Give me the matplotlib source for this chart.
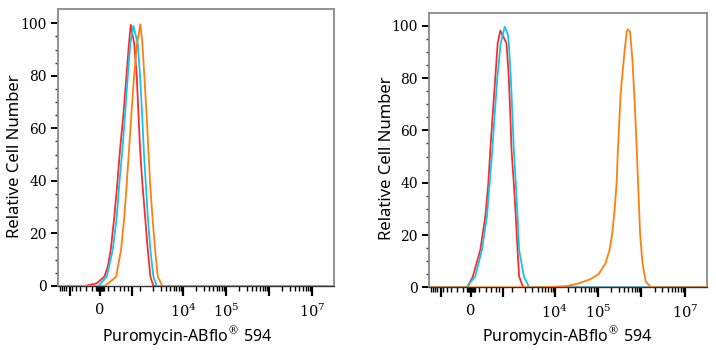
import matplotlib
matplotlib.use('Agg')
import matplotlib.pyplot as plt

plt.rcParams['mathtext.fontset'] = 'dejavuserif'

# значения по оси X (интенсивность) и Y (относительное число клеток)
# левая панель
left_red_x = [-1100, -210, -42, 55, 100, 142, 198, 250, 302, 380, 452, 529, 584, 710, 822, 900, 988, 1119, 1297, 1502, 1730, 2033, 3.2e7]
left_red_y = [0, 0, 1.0, 3.5, 7.3, 13.7, 26.4, 39.1, 51.8, 66.0, 79.7, 92.4, 99.4, 92.4, 79.7, 66.0, 51.8, 39.1, 26.4, 13.7, 3.5, 0, 0]

left_cyan_x = [-1100, -21, 86, 172, 240, 288, 353, 420, 491, 572, 678, 869, 988, 1100, 1208, 1347, 1502, 1730, 2033, 2442, 3.2e7]
left_cyan_y = [0, 0, 3.5, 13.7, 26.4, 39.1, 51.8, 66.0, 79.7, 92.4, 99.0, 92.4, 79.7, 66.0, 51.8, 39.1, 26.4, 13.7, 3.5, 0, 0]

left_orange_x = [-1100, 64, 227, 323, 400, 463, 529, 610, 705, 836, 1003, 1119, 1248, 1400, 1551, 1701, 1927, 2228, 2578, 3297, 3.2e7]
left_orange_y = [0, 0, 3.5, 13.7, 26.4, 39.1, 51.8, 66.0, 79.7, 92.4, 99.6, 92.4, 79.7, 66.0, 51.8, 39.1, 26.4, 13.7, 3.5, 0, 0]

# правая панель
right_red_x = [-1100, -47, 20, 118, 193, 245, 282, 335, 392, 452, 529, 748, 850, 920, 988, 1119, 1248, 1370, 1493, 1854, 3.2e7]
right_red_y = [0, 0, 4.1, 14.3, 27.0, 39.8, 52.5, 67.0, 80.5, 93.3, 98.1, 93.3, 80.5, 67.0, 52.5, 39.8, 27.0, 14.3, 4.1, 0, 0]

right_cyan_x = [-1100, -64, 51, 141, 220, 269, 323, 380, 444, 539, 678, 818, 850, 950, 1030, 1119, 1248, 1370, 1493, 1930, 2562, 3.2e7]
right_cyan_y = [0, 0, 4.1, 14.3, 27.0, 39.8, 52.5, 67.0, 80.5, 93.3, 99.6, 96.4, 93.3, 80.5, 67.0, 52.5, 39.8, 27.0, 14.3, 4.1, 0, 0]

right_orange_x = [-1100, 5000, 7780, 19035, 32500, 66270, 103300, 147900, 183300, 211800, 239600, 266500, 285800,
                  330200, 367900, 409500, 455900, 488400, 544000, 618400, 699200, 778200, 834600, 929000,
                  1056700, 1259600, 1646000, 2000000, 3.2e7]
right_orange_y = [0, 0, 0.2, 0.5, 1.3, 3.1, 5.1, 9.2, 14.3, 20.6, 29.5, 39.8, 52.5,
                  74.0, 82.4, 90.7, 97.7, 98.6, 97.7, 86.9, 70.3, 52.5, 39.8, 20.6,
                  9.2, 2.1, 0.2, 0, 0]

# подписи делений
x_major = [-560, 0, 630, 1e4, 1e5, 1e6, 1e7]
x_major_labels = ['', '0', '', '$10^{4}$', '$10^{5}$', '', '$10^{7}$']
y_major = [0, 20, 40, 60, 80, 100]

x_minor = [-1000, -900, -800, -700, -500, -400, -300, -200, -100,
           -50, -40, -30, -20, -10, 10, 20, 30, 40, 50,
           100, 200, 300, 400, 500, 1000]
for p in [1e3, 1e4, 1e5, 1e6]:
    for k in range(2, 10):
        x_minor.append(k * p)
y_minor = [v for v in range(5, 105, 5) if v % 20 != 0]

red = '#ff2a2a'
cyan = '#12c4ee'
orange = '#ff7f0e'

fig = plt.figure(figsize=(7.16, 3.5), dpi=100)
ax1 = fig.add_axes([0.081, 0.183, 0.3855, 0.791])
ax2 = fig.add_axes([0.599, 0.179, 0.388, 0.785])

panels = [
    (ax1, left_red_x, left_red_y, left_cyan_x, left_cyan_y, left_orange_x, left_orange_y, 105.4),
    (ax2, right_red_x, right_red_y, right_cyan_x, right_cyan_y, right_orange_x, right_orange_y, 105.0),
]

for ax, rx, ry, cx, cy, ox, oy, ytop in panels:
    ax.set_xscale('asinh', linear_width=235)
    ax.plot(rx, ry, color=red, lw=1.3, zorder=3)
    ax.plot(cx, cy, color=cyan, lw=1.3, zorder=4)
    ax.plot(ox, oy, color=orange, lw=1.3, zorder=5)
    ax.set_xlim(-1100, 3.2e7)
    ax.set_ylim(0, ytop)

    ax.set_xticks(x_major)
    ax.set_xticklabels(x_major_labels)
    ax.set_xticks(x_minor, minor=True)
    ax.set_yticks(y_major)
    ax.set_yticks(y_minor, minor=True)

    ax.tick_params(axis='x', which='major', length=7, width=1.6, color='black', pad=5,
                   labelsize=10.5)
    ax.tick_params(axis='x', which='minor', length=3.5, width=1.0, color='black')
    ax.tick_params(axis='y', which='major', length=5, width=1.4, color='black', pad=3,
                   labelsize=10)
    ax.tick_params(axis='y', which='minor', length=2.5, width=1.0, color='#333333')
    for lab in ax.get_yticklabels() + ax.get_xticklabels():
        lab.set_fontfamily('DejaVu Serif')

    for s in ['top', 'right', 'left']:
        ax.spines[s].set_color('#8a8a8a')
        ax.spines[s].set_linewidth(1.3)
    ax.spines['bottom'].set_color('#333333')
    ax.spines['bottom'].set_linewidth(1.0)

    ax.set_xlabel('Puromycin-ABflo$^{\u00ae}$ 594', fontfamily='Noto Sans', fontsize=11.5)
    ax.set_ylabel('Relative Cell Number', fontfamily='Noto Sans', fontsize=12)

ax1.xaxis.set_label_coords(0.467, -0.138)
ax1.yaxis.set_label_coords(-0.127, 0.47)
ax2.xaxis.set_label_coords(0.498, -0.137)
ax2.yaxis.set_label_coords(-0.122, 0.47)

plt.savefig('out.png', dpi=100)
